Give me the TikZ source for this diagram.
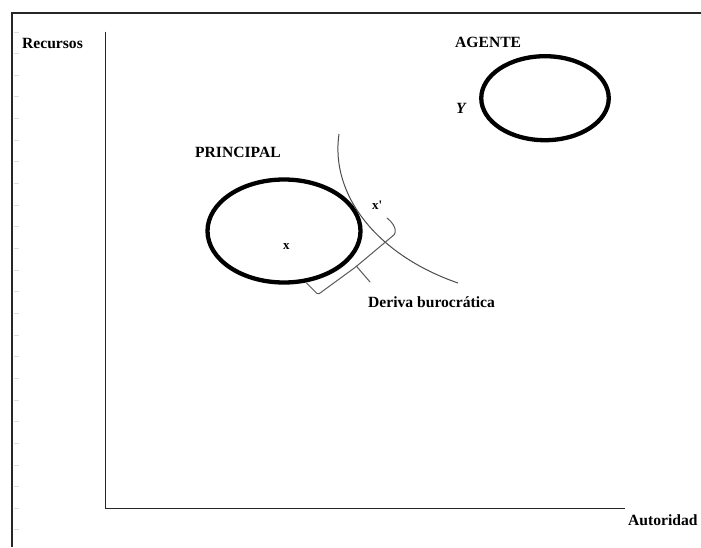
\documentclass[tikz,border=0pt]{standalone}
\usepackage{fontspec}
\setmainfont{Liberation Serif}
\usetikzlibrary{shapes.geometric}
\begin{document}
\begin{tikzpicture}[x=1pt,y=-1pt,
  lbl/.style={font=\fontsize{15.6}{18}\selectfont\bfseries, inner sep=0pt, anchor=base west},
  small/.style={font=\fontsize{13}{15}\selectfont\bfseries, inner sep=0pt, anchor=base west},
  blob/.style={ellipse, draw=black, line width=4.3pt, inner sep=0pt},
  frameline/.style={draw=black!85, line width=2.2pt},
  axis/.style={draw=black!85, line width=1pt},
  tick/.style={draw=black!13, line width=1pt},
  curveline/.style={draw=black!70, line width=1pt},
  braceline/.style={draw=black!65, line width=1pt, line join=round, line cap=round}]
\useasboundingbox (0,0) rectangle (701,547);
\fill[white] (0,0) rectangle (701,547);

% outer frame (top and left edges)
\coordinate (fTL) at (12,13);
\coordinate (fTR) at (701,13);
\coordinate (fBL) at (12,547);
\draw[frameline] (fTR) -- (fTL) -- (fBL);

% scale marks along the left edge
\foreach \k in {0,...,23}
  \draw[tick] (13.5,{32+21.65*\k}) -- (19,{32+21.65*\k});

% axes
\coordinate (yTop) at (105.5,31.5);
\coordinate (orig) at (105.5,508.5);
\coordinate (xEnd) at (625,508.5);
\draw[axis] (yTop) -- (orig) -- (xEnd);

% axis labels
\node[lbl] (recursos) at (22,48) {Recursos};
\node[lbl] (autoridad) at (628,525) {Autoridad};

% agent
\node[blob, minimum width=127.5pt, minimum height=84pt] (agente) at (545,98.2) {};
\node[lbl] (agenteLbl) at (455,47.5) {AGENTE};
\node[lbl, font=\fontsize{15.6}{18}\selectfont\bfseries\itshape] (yLbl) at (456,113.3) {Y};

% principal
\node[blob, minimum width=153pt, minimum height=103pt] (principal) at (284,231) {};
\node[lbl] (principalLbl) at (195,157) {PRINCIPAL};
\node[small] (xLbl) at (283,249) {x};
\node[small] (xpLbl) at (372,209) {x\textquotesingle};

% indifference curve
\coordinate (cStart) at (339,134);
\coordinate (cEnd) at (458,283);
\draw[curveline] (cStart) .. controls (330,195) and (377,255) .. (cEnd);

% brace marking the drift
\coordinate (bA) at (306.5,283);
\coordinate (bB) at (318,294.5);
\coordinate (bM) at (355,267.5);
\coordinate (bN) at (358,265);
\coordinate (bC) at (395,234);
\coordinate (bD) at (387,218);
\coordinate (bTip) at (356.5,266.3);
\coordinate (bS) at (370,282);
\draw[braceline, rounded corners=1.5pt] (bA) -- (bB) -- (bM) -- (bN) -- (bC)
  .. controls (396,227) and (392,222) .. (bD);
\draw[braceline] (bTip) -- (bS);
\node[lbl] (deriva) at (368,307) {Deriva burocrática};
\end{tikzpicture}
\end{document}
